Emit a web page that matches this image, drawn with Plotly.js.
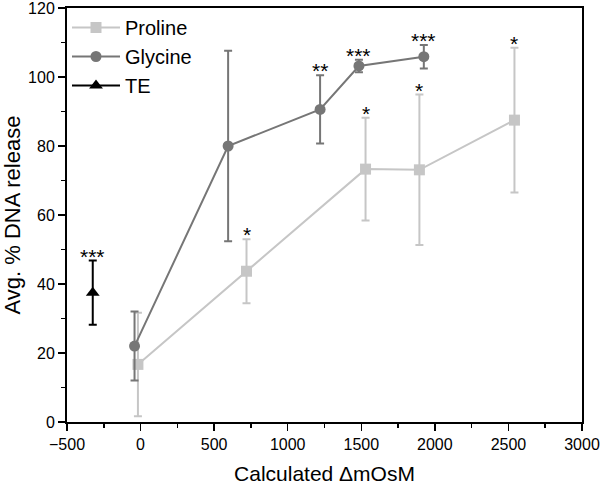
<!DOCTYPE html>
<html>
<head>
<meta charset="utf-8">
<script src="https://cdn.plot.ly/plotly-3.0.1.min.js"></script>
<style>html,body{margin:0;padding:0;background:#fff;}#chart{width:600px;height:485px;}</style>
</head>
<body>
<div id="chart"></div>
<script>
// Data
const prolineX = [-18, 720, 1529, 1895, 2541];
const prolineY = [16.7, 43.7, 73.3, 73.1, 87.5];
const prolineErr = [15.0, 9.3, 14.9, 21.8, 21.0];
const prolineStars = ['', '*', '*', '*', '*'];

const glycineX = [-41, 595, 1220, 1484, 1925];
const glycineY = [22.0, 80.0, 90.6, 103.2, 105.9];
const glycineErr = [10.0, 27.6, 9.9, 1.8, 3.4];
const glycineStars = ['', '', '**', '***', '***'];

const teX = [-325];
const teY = [37.5];
const teErr = [9.3];
const teStars = ['***'];

const FONT = 'Liberation Sans, Arial, sans-serif';
const cProline = '#c6c6c6';
const cGlycine = '#767676';
const cTE = '#000000';

function trace(name, x, y, err, color, symbol, size) {
  return {
    type: 'scatter', mode: 'lines+markers', name: name,
    x: x, y: y,
    line: {color: color, width: 2},
    marker: {color: color, symbol: symbol, size: size},
    error_y: {type: 'data', array: err, visible: true, color: color, thickness: 2, width: 4}
  };
}

const data = [
  trace('Proline', prolineX, prolineY, prolineErr, cProline, 'square', 11),
  trace('Glycine', glycineX, glycineY, glycineErr, cGlycine, 'circle', 11),
  trace('TE', teX, teY, teErr, cTE, 'triangle-up', 12)
];

const annotations = [];
function addStars(x, y, err, stars) {
  for (let i = 0; i < x.length; i++) {
    if (!stars[i]) continue;
    annotations.push({
      x: x[i], y: y[i] + err[i], xref: 'x', yref: 'y',
      text: stars[i], showarrow: false, yanchor: 'bottom', xanchor: 'center',
      yshift: -9, font: {family: FONT, size: 21, color: '#000'}
    });
  }
}
addStars(prolineX, prolineY, prolineErr, prolineStars);
addStars(glycineX, glycineY, glycineErr, glycineStars);
addStars(teX, teY, teErr, teStars);

const layout = {
  width: 600, height: 485,
  margin: {l: 67, r: 18, t: 8, b: 63},
  paper_bgcolor: '#fff', plot_bgcolor: '#fff',
  font: {family: FONT, color: '#000', size: 16},
  showlegend: true,
  legend: {x: 0.0, y: 1.0, xanchor: 'left', yanchor: 'top', bgcolor: 'rgba(0,0,0,0)',
           font: {family: FONT, size: 20, color: '#000'}, itemwidth: 48, tracegroupgap: 0},
  xaxis: {
    range: [-500, 3000], dtick: 500, tick0: 0,
    showgrid: false, zeroline: false,
    showline: true, mirror: true, linecolor: '#000', linewidth: 2,
    ticks: 'outside', ticklen: 7, tickwidth: 1.5, tickcolor: '#000',
    minor: {dtick: 250, ticks: 'outside', ticklen: 4, tickwidth: 1.5, tickcolor: '#000', showgrid: false},
    tickfont: {family: FONT, size: 16}, ticklabeloverflow: 'allow',
    title: {text: 'Calculated ΔmOsM', font: {family: FONT, size: 21}, standoff: 14}
  },
  yaxis: {
    range: [0, 120], dtick: 20,
    showgrid: false, zeroline: false,
    showline: true, mirror: true, linecolor: '#000', linewidth: 2,
    ticks: 'outside', ticklen: 7, tickwidth: 1.5, tickcolor: '#000',
    minor: {dtick: 10, ticks: 'outside', ticklen: 4, tickwidth: 1.5, tickcolor: '#000', showgrid: false},
    tickfont: {family: FONT, size: 16}, ticklabeloverflow: 'allow',
    title: {text: 'Avg. % DNA release', font: {family: FONT, size: 22}, standoff: 10}
  },
  annotations: annotations
};

Plotly.newPlot('chart', data, layout, {displayModeBar: false, staticPlot: true});
</script>
</body>
</html>
